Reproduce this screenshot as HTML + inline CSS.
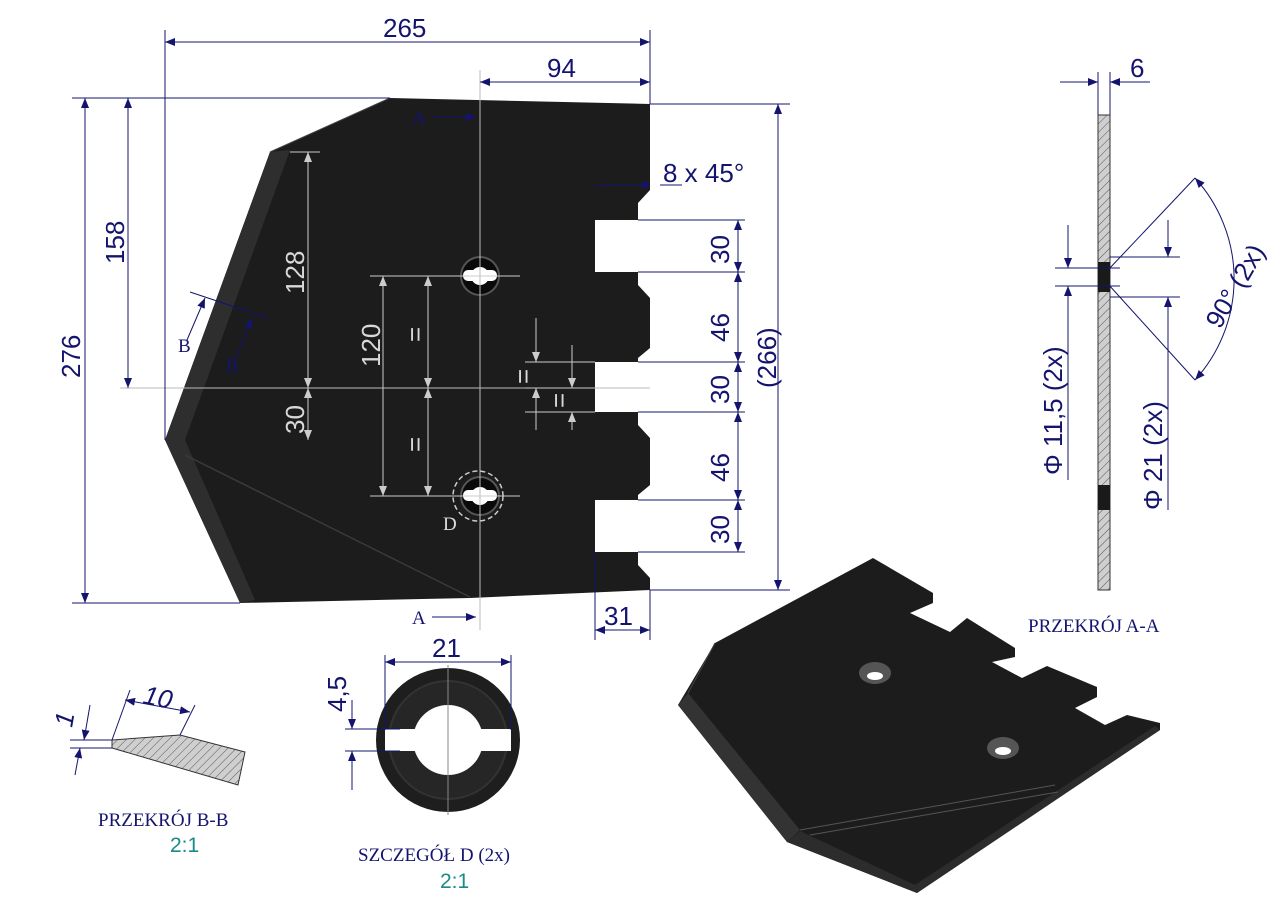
<!DOCTYPE html>
<html><head><meta charset="utf-8"><style>
html,body{margin:0;padding:0;background:#fff;}
svg{display:block}
.d{font-family:"Liberation Sans",sans-serif;font-size:26px;fill:#14146e}
.g{font-family:"Liberation Sans",sans-serif;font-size:26px;fill:#d8d8d8}
.s{font-family:"Liberation Serif",serif;font-size:19px;fill:#14146e}
.t{font-family:"Liberation Sans",sans-serif;font-size:21px;fill:#1a8a8a}
</style></head><body>
<svg width="1280" height="905" viewBox="0 0 1280 905" xmlns="http://www.w3.org/2000/svg">
<defs>
<marker id="a" markerWidth="10" markerHeight="8" refX="10" refY="4" orient="auto-start-reverse" markerUnits="userSpaceOnUse"><path d="M0,0 L10,4 L0,8 Z" fill="#14146e"/></marker>
<marker id="ag" markerWidth="10" markerHeight="8" refX="10" refY="4" orient="auto-start-reverse" markerUnits="userSpaceOnUse"><path d="M0,0 L10,4 L0,8 Z" fill="#ccc"/></marker>
<pattern id="h" width="6" height="6" patternUnits="userSpaceOnUse" patternTransform="rotate(45)"><rect width="6" height="6" fill="#cfcfcf"/><line x1="0" y1="0" x2="0" y2="6" stroke="#555" stroke-width="1"/></pattern>
</defs>
<path d="M390,98 L650,104 L650,190 L638,203 L638,220 L595,220 L595,272 L638,272 L638,285 L650,298 L650,348 L638,358 L638,362 L595,362 L595,412 L638,412 L638,425 L650,438 L650,485 L638,495 L638,500 L595,500 L595,552 L638,552 L638,565 L650,578 L650,590 L470,598 L240,603 L165,440 L270,152 Z" fill="#1c1c1c"/>
<path d="M270,152 L290,150 L185,440 L165,440 Z" fill="#2e2e2e"/>
<path d="M165,440 L185,440 L255,600 L240,603 Z" fill="#2e2e2e"/>
<path d="M185,455 L470,597" stroke="#3a3a3a" stroke-width="1.5"/>
<path d="M390,98 L270,152" stroke="#444" stroke-width="1"/>
<g fill="#0a0a0a" stroke="#555" stroke-width="2">
<circle cx="480" cy="276" r="19"/><circle cx="480" cy="496" r="19"/></g>
<g fill="#fff"><rect x="463" y="270" width="34" height="11" rx="5"/><circle cx="480" cy="276" r="9"/>
<rect x="463" y="490" width="34" height="11" rx="5"/><circle cx="480" cy="496" r="9"/></g>
<circle cx="478" cy="496" r="25" fill="none" stroke="#ccc" stroke-dasharray="5,3" stroke-width="1.5"/>
<text x="443" y="530" class="s" style="fill:#ddd">D</text>
<g stroke="#bbb" stroke-width="1"><line x1="480" y1="70" x2="480" y2="630"/><line x1="120" y1="388" x2="650" y2="388"/></g>
<text x="412" y="124" class="s">A</text><line x1="432" y1="117" x2="476" y2="117" stroke="#14146e" marker-end="url(#a)"/>
<text x="412" y="624" class="s">A</text><line x1="432" y1="617" x2="476" y2="617" stroke="#14146e" marker-end="url(#a)"/>
<line x1="190" y1="292" x2="268" y2="318" stroke="#14146e"/>
<text x="178" y="352" class="s">B</text><line x1="187" y1="340" x2="205" y2="298" stroke="#14146e" marker-end="url(#a)"/>
<text x="226" y="372" class="s">B</text><line x1="235" y1="360" x2="252" y2="318" stroke="#14146e" marker-end="url(#a)"/>
<g stroke="#14146e" stroke-width="1" fill="none">
<line x1="165" y1="30" x2="165" y2="440"/><line x1="650" y1="30" x2="650" y2="104"/>
<line x1="165" y1="42" x2="650" y2="42" marker-start="url(#a)" marker-end="url(#a)"/>
<line x1="480" y1="82" x2="650" y2="82" marker-start="url(#a)" marker-end="url(#a)"/>
<line x1="72" y1="98" x2="390" y2="98"/><line x1="72" y1="603" x2="240" y2="603"/>
<line x1="85" y1="98" x2="85" y2="603" marker-start="url(#a)" marker-end="url(#a)"/>
<line x1="128" y1="98" x2="128" y2="388" marker-start="url(#a)" marker-end="url(#a)"/>
<line x1="650" y1="104" x2="790" y2="104"/><line x1="650" y1="590" x2="790" y2="590"/>
<line x1="778" y1="104" x2="778" y2="590" marker-start="url(#a)" marker-end="url(#a)"/>
<line x1="595" y1="185" x2="650" y2="185"/><line x1="650" y1="185" x2="638" y2="185" marker-end="url(#a)"/><line x1="660" y1="185" x2="682" y2="185"/>
<line x1="638" y1="220" x2="745" y2="220"/><line x1="638" y1="272" x2="745" y2="272"/><line x1="638" y1="362" x2="745" y2="362"/><line x1="638" y1="412" x2="745" y2="412"/><line x1="638" y1="500" x2="745" y2="500"/><line x1="638" y1="552" x2="745" y2="552"/>
<line x1="738" y1="220" x2="738" y2="272" marker-start="url(#a)" marker-end="url(#a)"/>
<line x1="738" y1="272" x2="738" y2="362" marker-start="url(#a)" marker-end="url(#a)"/>
<line x1="738" y1="362" x2="738" y2="412" marker-start="url(#a)" marker-end="url(#a)"/>
<line x1="738" y1="412" x2="738" y2="500" marker-start="url(#a)" marker-end="url(#a)"/>
<line x1="738" y1="500" x2="738" y2="552" marker-start="url(#a)" marker-end="url(#a)"/>
<line x1="595" y1="552" x2="595" y2="640"/><line x1="650" y1="590" x2="650" y2="640"/>
<line x1="595" y1="630" x2="650" y2="630" marker-start="url(#a)" marker-end="url(#a)"/>
</g>
<text x="383" y="37" class="d">265</text>
<text x="547" y="77" class="d">94</text>
<text x="663" y="182" class="d">8  x  45°</text>
<text x="604" y="625" class="d">31</text>
<text transform="translate(80,378) rotate(-90)" class="d">276</text>
<text transform="translate(124,264) rotate(-90)" class="d">158</text>
<text transform="translate(776,388) rotate(-90)" class="d">(266)</text>
<g class="d"><text transform="translate(729,264) rotate(-90)">30</text><text transform="translate(729,342) rotate(-90)">46</text><text transform="translate(729,404) rotate(-90)">30</text><text transform="translate(729,482) rotate(-90)">46</text><text transform="translate(729,544) rotate(-90)">30</text></g>
<g stroke="#ccc" stroke-width="1" fill="none">
<line x1="290" y1="152" x2="320" y2="152"/>
<line x1="308" y1="152" x2="308" y2="388" marker-start="url(#ag)" marker-end="url(#ag)"/>
<line x1="308" y1="388" x2="308" y2="440" marker-start="url(#ag)" marker-end="url(#ag)"/>
<line x1="370" y1="276" x2="520" y2="276"/><line x1="370" y1="496" x2="520" y2="496"/>
<line x1="383" y1="276" x2="383" y2="496" marker-start="url(#ag)" marker-end="url(#ag)"/>
<line x1="428" y1="276" x2="428" y2="388" marker-start="url(#ag)" marker-end="url(#ag)"/>
<line x1="428" y1="388" x2="428" y2="496" marker-start="url(#ag)" marker-end="url(#ag)"/>
<line x1="525" y1="362" x2="595" y2="362"/><line x1="525" y1="412" x2="595" y2="412"/><line x1="525" y1="388" x2="595" y2="388"/>
<line x1="536" y1="318" x2="536" y2="362" marker-end="url(#ag)"/><line x1="536" y1="430" x2="536" y2="388" marker-end="url(#ag)"/>
<line x1="572" y1="345" x2="572" y2="388" marker-end="url(#ag)"/><line x1="572" y1="430" x2="572" y2="412" marker-end="url(#ag)"/>
</g>
<g class="g"><text transform="translate(304,294) rotate(-90)">128</text><text transform="translate(304,434) rotate(-90)">30</text><text transform="translate(380,367) rotate(-90)">120</text>
<text transform="translate(424,342) rotate(-90)">=</text><text transform="translate(424,452) rotate(-90)">=</text><text transform="translate(532,384) rotate(-90)">=</text><text transform="translate(568,408) rotate(-90)">=</text></g>
<rect x="1098" y="115" width="12" height="475" fill="url(#h)" stroke="#333"/>
<rect x="1098" y="262" width="12" height="30" fill="#1a1a1a"/>
<rect x="1098" y="485" width="12" height="25" fill="#1a1a1a"/>
<g stroke="#14146e" stroke-width="1" fill="none">
<line x1="1098" y1="72" x2="1098" y2="115"/><line x1="1110" y1="72" x2="1110" y2="115"/>
<line x1="1060" y1="82" x2="1098" y2="82" marker-end="url(#a)"/><line x1="1150" y1="82" x2="1110" y2="82" marker-end="url(#a)"/>
<line x1="1108" y1="270" x2="1195" y2="178"/><line x1="1108" y1="284" x2="1195" y2="380"/>
<path d="M1195,178 A150,150 0 0 1 1195,380" marker-start="url(#a)" marker-end="url(#a)"/>
<line x1="1055" y1="268" x2="1120" y2="268"/><line x1="1055" y1="286" x2="1120" y2="286"/>
<line x1="1068" y1="225" x2="1068" y2="268" marker-end="url(#a)"/><line x1="1068" y1="330" x2="1068" y2="286" marker-end="url(#a)"/>
<line x1="1110" y1="257" x2="1180" y2="257"/><line x1="1110" y1="297" x2="1180" y2="297"/>
<line x1="1168" y1="220" x2="1168" y2="257" marker-end="url(#a)"/><line x1="1168" y1="340" x2="1168" y2="297" marker-end="url(#a)"/>
<line x1="1168" y1="297" x2="1168" y2="510"/><line x1="1068" y1="286" x2="1068" y2="480"/>
</g>
<text x="1130" y="77" class="d">6</text>
<text transform="translate(1220,330) rotate(-60)" class="d">90°  (2x)</text>
<text transform="translate(1062,475) rotate(-90)" class="d">Φ  11,5  (2x)</text>
<text transform="translate(1162,510) rotate(-90)" class="d">Φ  21  (2x)</text>
<text x="1028" y="632" class="s">PRZEKRÓJ A-A</text>
<path d="M715,643 L873,558 L933,593 L933,603 L910,613 L950,632 L967,618 L1015,648 L1015,657 L992,662 L1022,678 L1047,666 L1097,687 L1097,697 L1075,708 L1105,725 L1127,715 L1160,723 L1160,730 L917,893 L787,842 L678,705 Z" fill="#1c1c1c"/>
<path d="M678,705 L688,693 L800,830 L787,842 Z" fill="#333"/>
<path d="M787,842 L917,893 L1160,730 L1155,726 L915,885 L800,831 Z" fill="#2c2c2c"/>
<path d="M800,830 L1055,785 M810,835 L1058,792" stroke="#555" stroke-width="1"/>
<path d="M715,643 L688,693" stroke="#444" stroke-width="1"/>
<ellipse cx="875" cy="673" rx="16" ry="11" fill="#555"/><ellipse cx="875" cy="676" rx="8" ry="4" fill="#fff"/>
<ellipse cx="1003" cy="748" rx="16" ry="11" fill="#555"/><ellipse cx="1003" cy="751" rx="8" ry="4" fill="#fff"/>
<circle cx="448" cy="740" r="72" fill="#1e1e1e"/>
<circle cx="448" cy="740" r="60" fill="#333"/>
<circle cx="448" cy="740" r="58" fill="#262626"/>
<circle cx="448" cy="740" r="35" fill="#fff"/>
<rect x="385" y="729" width="126" height="22" fill="#fff"/>
<g stroke="#14146e" stroke-width="1" fill="none">
<line x1="385" y1="655" x2="385" y2="730"/><line x1="511" y1="655" x2="511" y2="730"/>
<line x1="385" y1="662" x2="511" y2="662" marker-start="url(#a)" marker-end="url(#a)"/>
<line x1="345" y1="729" x2="400" y2="729"/><line x1="345" y1="751" x2="400" y2="751"/>
<line x1="352" y1="700" x2="352" y2="729" marker-end="url(#a)"/><line x1="352" y1="790" x2="352" y2="751" marker-end="url(#a)"/>
<line x1="448" y1="665" x2="448" y2="815" stroke="#888"/>
</g>
<text x="432" y="657" class="d">21</text>
<text transform="translate(346,712) rotate(-90)" class="d">4,5</text>
<text x="358" y="861" class="s">SZCZEGÓŁ D (2x)</text>
<text x="440" y="888" class="t">2:1</text>
<path d="M112,740 L180,735 L245,752 L238,785 L112,748 Z" fill="url(#h)" stroke="#333"/>
<g stroke="#14146e" stroke-width="1" fill="none">
<line x1="70" y1="740" x2="112" y2="740"/><line x1="70" y1="748" x2="112" y2="748"/>
<line x1="90" y1="705" x2="84" y2="740" marker-end="url(#a)"/><line x1="75" y1="775" x2="80" y2="748" marker-end="url(#a)"/>
<line x1="112" y1="740" x2="130" y2="690"/><line x1="180" y1="735" x2="195" y2="705"/>
<line x1="125" y1="700" x2="190" y2="712" marker-start="url(#a)" marker-end="url(#a)"/>
</g>
<text transform="translate(72,728) rotate(-80)" class="d" style="font-style:italic">1</text>
<text transform="translate(142,703) rotate(12)" class="d" style="font-style:italic">10</text>
<text x="98" y="826" class="s">PRZEKRÓJ B-B</text>
<text x="170" y="852" class="t">2:1</text>
</svg>
</body></html>
